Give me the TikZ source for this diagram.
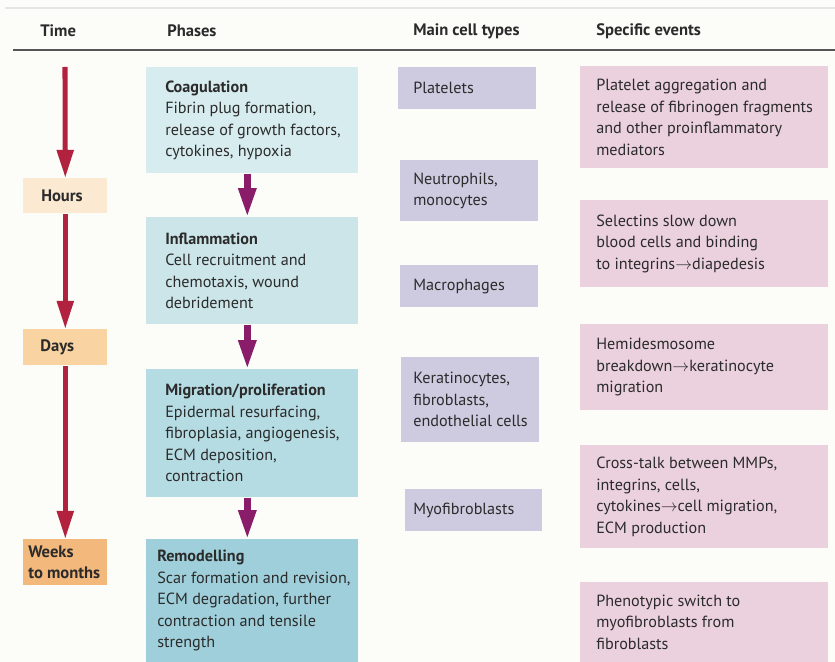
\documentclass[tikz,border=0pt]{standalone}
\usepackage{fontspec}
\setmainfont{PT Sans}
\usetikzlibrary{arrows.meta}

\definecolor{bgcol}{HTML}{FCFCF8}
\definecolor{inkcol}{HTML}{2B2B2B}
\definecolor{hourscol}{HTML}{FCE9D2}
\definecolor{dayscol}{HTML}{F9D3A1}
\definecolor{weekscol}{HTML}{F3B87C}
\definecolor{timearrow}{HTML}{B2223E}
\definecolor{coagcol}{HTML}{D7ECEE}
\definecolor{inflamcol}{HTML}{CCE5E9}
\definecolor{migrcol}{HTML}{B5DCE3}
\definecolor{remodcol}{HTML}{9FCFDA}
\definecolor{phasearrow}{HTML}{8A1D69}
\definecolor{cellcol}{HTML}{CECAE0}
\definecolor{eventcol}{HTML}{EBD1DD}

\begin{document}
\begin{tikzpicture}[x=0.025cm,y=-0.025cm,
    font=\fontsize{11.5}{15.3}\selectfont,
    every node/.style={text=inkcol},
    head/.style={anchor=west,inner sep=0pt,font=\fontsize{11.8}{15.3}\selectfont\bfseries},
    box/.style={anchor=north west,inner sep=0pt},
    timebox/.style={box,minimum width=2.1cm},
    phasebox/.style={box,minimum width=5.3cm},
    cellbox/.style={box,fill=cellcol,minimum width=3.45cm},
    eventbox/.style={box,fill=eventcol,minimum width=6.2cm},
    boxtext/.style={anchor=west,align=left,inner sep=0pt},
    timetext/.style={boxtext,font=\fontsize{11.8}{15.3}\selectfont\bfseries},
    timeline/.style={timearrow,line width=3.6pt,-{Triangle[length=20pt,width=11.4pt]}},
    phaseline/.style={phasearrow,line width=4.6pt,-{Triangle[length=20.6pt,width=12pt]}}]

\fill[bgcol] (0,0) rectangle (835,662);
\useasboundingbox (0,0) rectangle (835,662);
\draw[black!10,line width=0.8pt] (5,8) -- (835,8);

\node[head] (htime) at (40,31) {Time};
\node[head] (hphase) at (167,31) {Phases};
\node[head] (hcell) at (413,31) {Main cell types};
\node[head] (hevent) at (596,31) {Specific events};
\draw[inkcol!80,line width=1.1pt] (13,50) -- (835,50);

\coordinate (phasex) at (165,0);
\coordinate (cellx) at (413,0);
\coordinate (eventx) at (596,0);

\node[timebox,fill=hourscol,minimum height=0.875cm] (hours) at (23,178) {};
\node[timebox,fill=dayscol,minimum height=0.9cm] (days) at (23,329) {};
\node[timebox,fill=weekscol,minimum height=1.15cm] (weeks) at (23,539) {};
\node[timetext] (hourstxt) at ([xshift=0.45cm]hours.west) {Hours};
\node[timetext] (daystxt) at ([xshift=0.425cm]days.west) {Days};
\node[timetext] (weekstxt) at ([xshift=0.125cm]weeks.west) {Weeks\\to months};

\coordinate (tstart) at (65,67);
\draw[timeline] (tstart) -- (hours.north);
\draw[timeline] (hours.south) -- (days.north);
\draw[timeline] (days.south) -- (weeks.north);

\node[phasebox,fill=coagcol,minimum height=2.65cm] (coag) at (146,67) {};
\node[phasebox,fill=inflamcol,minimum height=2.675cm] (inflam) at (146,217) {};
\node[phasebox,fill=migrcol,minimum height=3.2cm] (migr) at (146,369) {};
\node[phasebox,fill=remodcol,minimum height=3.075cm] (remod) at (146,539) {};

\node[boxtext] (coagtxt) at (coag.west -| phasex)
    {\textbf{Coagulation}\\Fibrin plug formation,\\release of growth factors,\\cytokines, hypoxia};
\node[boxtext] (inflamtxt) at (inflam.west -| phasex)
    {\textbf{Inflammation}\\Cell recruitment and\\chemotaxis, wound\\debridement};
\node[boxtext] (migrtxt) at (migr.west -| phasex)
    {\textbf{Migration/proliferation}\\Epidermal resurfacing,\\fibroplasia, angiogenesis,\\ECM deposition,\\contraction};
\node[boxtext] (remodtxt) at ([xshift=0.275cm]remod.west)
    {\textbf{Remodelling}\\Scar formation and revision,\\ECM degradation, further\\contraction and tensile\\strength};

\draw[phaseline] ([xshift=-0.125cm]coag.south) -- ([xshift=-0.125cm]inflam.north);
\draw[phaseline] ([xshift=-0.125cm]inflam.south) -- ([xshift=-0.125cm]migr.north);
\draw[phaseline] ([xshift=-0.125cm]migr.south) -- ([xshift=-0.125cm]remod.north);

\node[cellbox,minimum height=1.05cm] (platelets) at (398,67) {};
\node[cellbox,minimum height=1.525cm] (neutro) at (400,160) {};
\node[cellbox,minimum height=1.05cm] (macro) at (400,265) {};
\node[cellbox,minimum height=2.125cm] (kerat) at (401,357) {};
\node[cellbox,minimum height=1.05cm,minimum width=3.425cm] (myo) at (405,489) {};

\node[boxtext] (platelettxt) at (platelets.west -| cellx) {Platelets};
\node[boxtext] (neutrotxt) at (neutro.west -| cellx) {Neutrophils,\\monocytes};
\node[boxtext] (macrotxt) at (macro.west -| cellx) {Macrophages};
\node[boxtext] (kerattxt) at (kerat.west -| cellx) {Keratinocytes,\\fibroblasts,\\endothelial cells};
\node[boxtext] (myotxt) at (myo.west -| cellx) {Myofibroblasts};

\node[eventbox,minimum height=2.55cm] (ev1) at (580,66) {};
\node[eventbox,minimum height=2.175cm] (ev2) at (580,200) {};
\node[eventbox,minimum height=2.15cm] (ev3) at (580,324) {};
\node[eventbox,minimum height=2.575cm] (ev4) at (580,445) {};
\node[eventbox,minimum height=2.0cm] (ev5) at (580,582) {};

\node[boxtext] (ev1txt) at (ev1.west -| eventx)
    {Platelet aggregation and\\release of fibrinogen fragments\\and other proinflammatory\\mediators};
\node[boxtext] (ev2txt) at (ev2.west -| eventx)
    {Selectins slow down\\blood cells and binding\\to integrins$\rightarrow$diapedesis};
\node[boxtext] (ev3txt) at (ev3.west -| eventx)
    {Hemidesmosome\\breakdown$\rightarrow$keratinocyte\\migration};
\node[boxtext] (ev4txt) at (ev4.west -| eventx)
    {Cross-talk between MMPs,\\integrins, cells,\\cytokines$\rightarrow$cell migration,\\ECM production};
\node[boxtext] (ev5txt) at (ev5.west -| eventx)
    {Phenotypic switch to\\myofibroblasts from\\fibroblasts};
\end{tikzpicture}
\end{document}
